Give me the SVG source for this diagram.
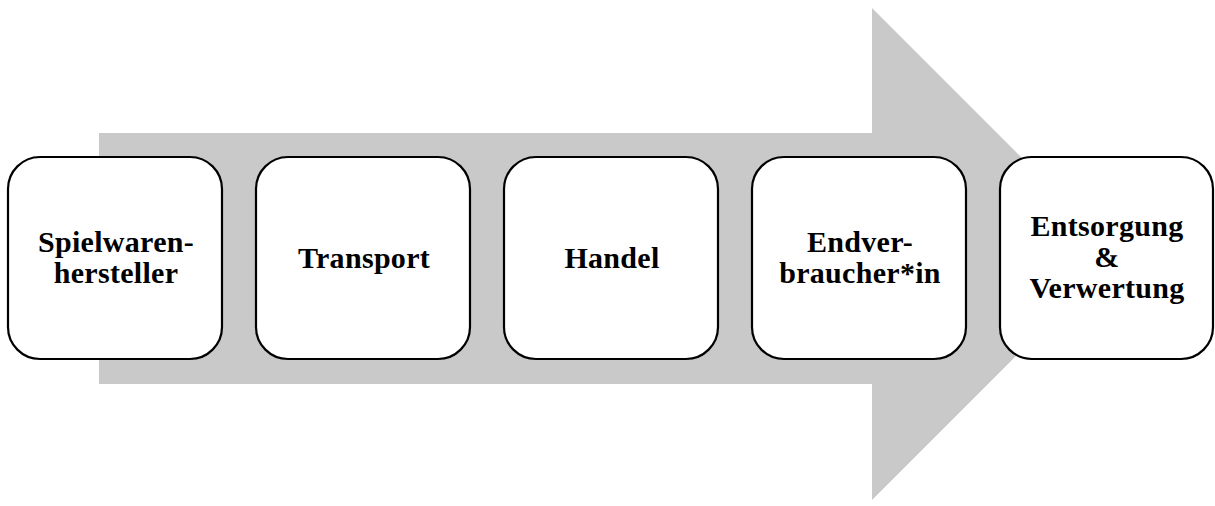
<svg xmlns="http://www.w3.org/2000/svg" width="1215" height="506" viewBox="0 0 1215 506">
<style>
.box{fill:#fff;stroke:#000;stroke-width:2.2}
.t{font-family:"Liberation Serif","Times New Roman",serif;font-weight:bold;font-size:30px;letter-spacing:0.3px;fill:#000;text-anchor:middle}
</style>
<rect width="1215" height="506" fill="#fff"/>
<g id="connectors">
<polygon points="99,133 872,133 872,8 1118,254 872,500 872,384 99,384" fill="#c9c9c9"/>
</g>
<g id="n1"><rect class="box" x="8" y="157" width="214" height="202" rx="32"/>
<text class="t" x="116" y="252">Spielwaren-</text><text class="t" x="116" y="283">hersteller</text></g>
<g id="n2"><rect class="box" x="256" y="157" width="214" height="202" rx="32"/>
<text class="t" x="364" y="268">Transport</text></g>
<g id="n3"><rect class="box" x="504" y="157" width="214" height="202" rx="32"/>
<text class="t" x="612" y="268">Handel</text></g>
<g id="n4"><rect class="box" x="752" y="157" width="214" height="202" rx="32"/>
<text class="t" x="860" y="252">Endver-</text><text class="t" x="860" y="283">braucher*in</text></g>
<g id="n5"><rect class="box" x="1000" y="157" width="213" height="202" rx="32"/>
<text class="t" x="1107" y="236">Entsorgung</text><text class="t" x="1107" y="267">&amp;</text><text class="t" x="1107" y="298">Verwertung</text></g>
</svg>
